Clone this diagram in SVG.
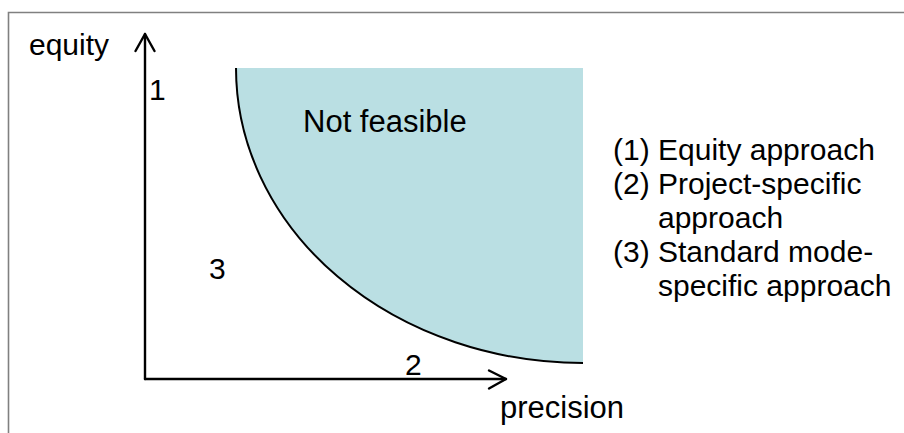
<svg xmlns="http://www.w3.org/2000/svg" width="904" height="433" viewBox="0 0 904 433">
<style>
text{font-family:"Liberation Sans",Arial,sans-serif;fill:#000;}
.lbl{font-size:30px;}
.big{font-size:31px;}
.leg{font-size:30px;}
.ax{stroke:#000;stroke-width:2.4;fill:none;stroke-linecap:round;stroke-linejoin:round;}
</style>
<rect width="904" height="433" fill="#fff"/>
<g id="frame" stroke="#808080" stroke-width="1.6" fill="none">
<path d="M8.5,433 V12.5 H904"/>
</g>
<g id="region">
<path d="M236,68 A347,295 0 0 0 583,363 L583,68 Z" fill="#BADFE3"/>
<path d="M236,68 A347,295 0 0 0 583,363" fill="none" stroke="#000" stroke-width="2"/>
<text class="big" x="303" y="132">Not feasible</text>
</g>
<g id="connectors">
<path class="ax" d="M145,379 V34"/>
<path class="ax" d="M135.5,51 L145,34 L154.5,51"/>
<path class="ax" d="M145,379 H506"/>
<path class="ax" d="M489,370.5 L506,379 L489,388.5"/>
</g>
<g id="axis-labels">
<text class="lbl" x="29" y="55">equity</text>
<text class="big" x="500" y="418">precision</text>
<text class="lbl" x="149" y="100">1</text>
<text class="lbl" x="209" y="279">3</text>
<text class="lbl" x="405" y="375">2</text>
</g>
<g id="legend">
<text class="leg" x="613" y="160">(1)</text>
<text class="leg" x="658" y="160">Equity approach</text>
<text class="leg" x="613" y="194">(2)</text>
<text class="leg" x="658" y="194">Project-specific</text>
<text class="leg" x="658" y="228">approach</text>
<text class="leg" x="613" y="262">(3)</text>
<text class="leg" x="658" y="262">Standard mode-</text>
<text class="leg" x="658" y="296">specific approach</text>
</g>
</svg>
